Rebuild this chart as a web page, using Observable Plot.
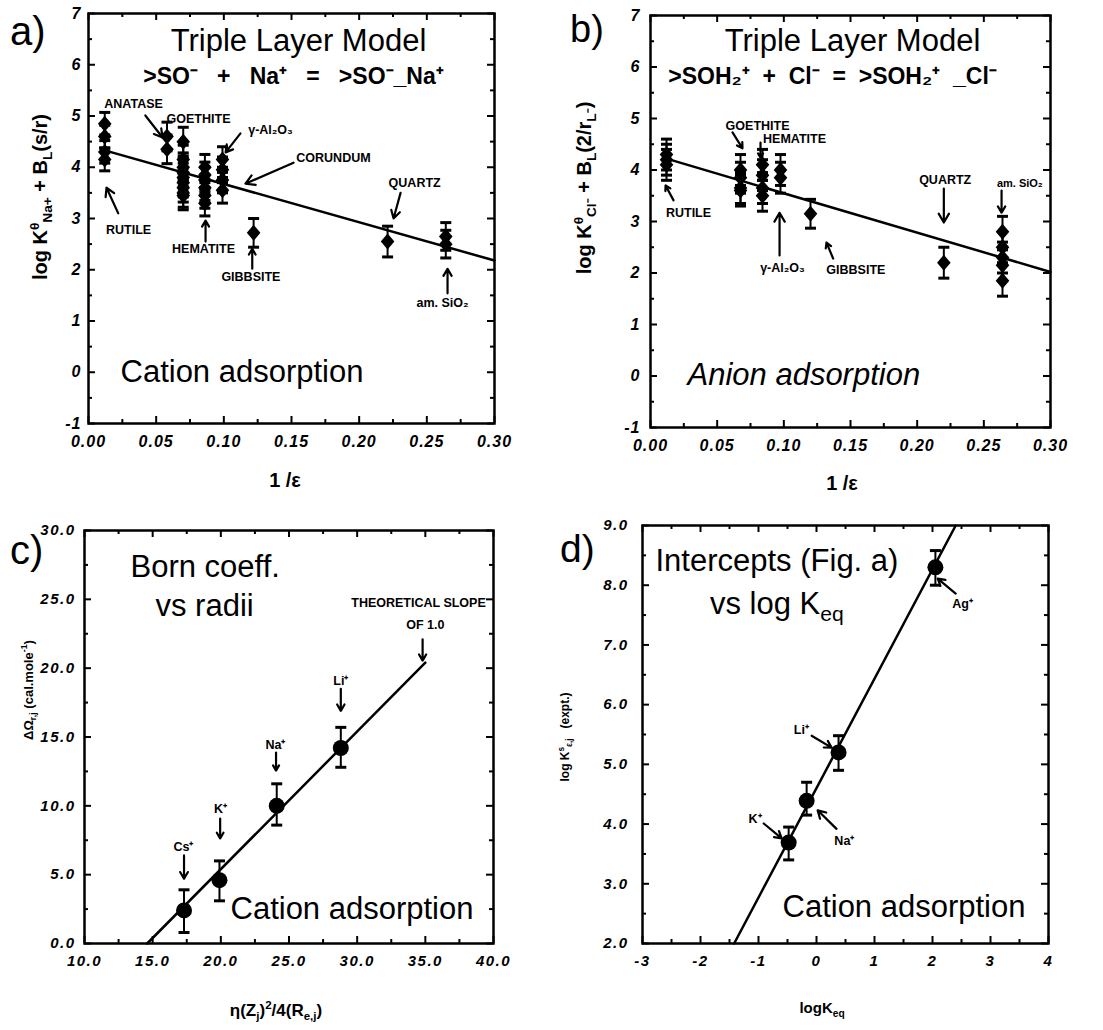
<!DOCTYPE html>
<html><head><meta charset="utf-8">
<script src="https://cdn.jsdelivr.net/npm/d3@7"></script>
<script src="https://cdn.jsdelivr.net/npm/@observablehq/plot@0.6"></script>
<style>
body{margin:0;background:#fff;}
#wrap{position:relative;width:1103px;height:1030px;font-family:"Liberation Sans",Arial,Helvetica,sans-serif;color:#000;overflow:hidden;}
.panel{position:absolute;}
.lab{position:absolute;white-space:nowrap;line-height:1;}
.ctr{transform:translate(-50%,-50%);}
.rot{transform:translate(-50%,-50%) rotate(-90deg);}
.b{font-weight:bold;}
sub,sup{font-size:0.68em;line-height:0;}
</style></head><body><div id="wrap"></div>
<script>
const FONT = '"Liberation Sans", Arial, Helvetica, sans-serif';

// ---------- Panel a data (cation, 1/eps vs log K) ----------
const aX = [0.012,0.012,0.012,0.012, 0.058,0.058,
  0.070,0.070,0.070,0.070,0.070,0.070,0.070,0.070,0.070,
  0.086,0.086,0.086,0.086,0.086,0.086, 0.099,0.099,0.099,0.099,
  0.122, 0.221, 0.264,0.264];
const aY = [4.85,4.6,4.3,4.15, 4.6,4.35,
  4.5,4.15,4.0,3.9,3.8,3.7,3.6,3.5,3.45,
  4.0,3.85,3.75,3.6,3.45,3.3, 4.15,3.95,3.75,3.55,
  2.72, 2.55, 2.65,2.5];
const aErr = [0.22,0.22,0.22,0.22, 0.28,0.28,
  0.28,0.28,0.28,0.28,0.28,0.28,0.28,0.28,0.28,
  0.25,0.25,0.25,0.25,0.25,0.25, 0.25,0.25,0.25,0.25,
  0.28, 0.3, 0.27,0.27];
const fitAX = [0.012, 0.30], fitAY = [4.33, 2.18];
const xTicksA = [0,0.05,0.10,0.15,0.20,0.25,0.30];
const yTicksA = [-1,0,1,2,3,4,5,6,7];
const annAText = ["ANATASE","GOETHITE","γ-Al₂O₃","CORUNDUM","RUTILE","HEMATITE","GIBBSITE","QUARTZ","am. SiO₂"];
const annAX = [0.0333,0.0813,0.1345,0.181,0.0296,0.085,0.12,0.241,0.2616];
const annAY = [5.24,4.95,4.72,4.19,2.77,2.4,1.85,3.70,1.36];
const arrAX1 = [0.042,0.1123,0.1515,0.022,0.0865,0.121,0.2306,0.2653];
const arrAY1 = [5.01,4.66,4.09,3.1,2.55,2.02,3.5,1.54];
const arrAX2 = [0.0547,0.1013,0.116,0.0133,0.0865,0.121,0.2254,0.2653];
const arrAY2 = [4.58,4.29,3.68,3.6,2.96,2.41,3.0,2.02];

// ---------- Panel b data (anion) ----------
const bX = [0.012,0.012,0.012, 0.0675,0.0675,0.0675,0.0675, 0.084,0.084,0.084,0.084,
  0.0975,0.0975, 0.12, 0.22, 0.264,0.264,0.264,0.264,0.264];
const bY = [4.3,4.2,4.1, 4.0,3.85,3.65,3.6, 4.1,3.9,3.65,3.5, 4.0,3.85, 3.15, 2.2, 2.8,2.5,2.3,2.15,1.85];
const bErr = [0.3,0.3,0.3, 0.3,0.3,0.3,0.3, 0.3,0.3,0.3,0.3, 0.3,0.3, 0.28, 0.3, 0.3,0.3,0.3,0.3,0.3];
const fitBX = [0.012, 0.30], fitBY = [4.22, 2.02];
const xTicksB = [0,0.05,0.10,0.15,0.20,0.25,0.30];
const yTicksB = [-1,0,1,2,3,4,5,6,7];
const annBText = ["GOETHITE","HEMATITE","RUTILE","γ-Al₂O₃","GIBBSITE","QUARTZ"];
const annBX = [0.0803,0.108,0.0285,0.099,0.154,0.221];
const annBY = [4.86,4.61,3.16,2.1,2.05,3.8];
const annBSmallText = ["am. SiO₂"], annBSmallX = [0.277], annBSmallY = [3.74];
const arrBX1 = [0.0615,0.0825,0.0173,0.0968,0.137,0.22,0.2633];
const arrBY1 = [4.73,4.53,3.41,2.34,2.28,3.64,3.6];
const arrBX2 = [0.069,0.0825,0.0113,0.0968,0.132,0.22,0.2633];
const arrBY2 = [4.42,4.24,3.7,3.17,2.59,2.98,3.17];

// ---------- Panel c data (Born coefficient vs radii) ----------
const cIons = ["Cs⁺","K⁺","Na⁺","Li⁺"];
const cX = [17.3,19.9,24.1,28.8];
const cY = [2.4,4.6,10.0,14.2];
const cLo = [0.8,3.1,8.6,12.8];
const cHi = [3.9,6.0,11.6,15.7];
const fitCX = [14.6, 35.0], fitCY = [0, 20.4];
const xTicksC = [10,15,20,25,30,35,40];
const yTicksC = [0,5,10,15,20,25,30];
const annCText = ["THEORETICAL SLOPE","OF 1.0","Cs⁺","K⁺","Na⁺","Li⁺"];
const annCX = [34.5,35.0,17.26,19.98,24.0,28.8];
const annCY = [24.7,23.1,7.04,9.8,14.45,19.1];
const arrCX1 = [34.8,17.3,19.95,24.05,28.8];
const arrCY1 = [22.1,6.4,9.08,13.87,18.5];
const arrCX2 = [34.8,17.3,19.95,24.05,28.8];
const arrCY2 = [20.55,4.7,7.63,12.56,16.9];

// ---------- Panel d data (intercepts vs log Keq) ----------
const dIons = ["K⁺","Na⁺","Li⁺","Ag⁺"];
const dX = [-0.48,-0.17,0.38,2.05];
const dY = [3.69,4.39,5.2,8.3];
const dLo = [3.4,4.15,4.9,8.0];
const dHi = [3.95,4.7,5.48,8.58];
const fitDX = [-1.42, 2.40], fitDY = [2.0, 9.0];
const xTicksD = [-3,-2,-1,0,1,2,3,4];
const yTicksD = [2,3,4,5,6,7,8,9];
const annDText = ["Ag⁺","Li⁺","K⁺","Na⁺"];
const annDX = [2.52,-0.26,-1.06,0.48];
const annDY = [7.69,5.58,4.09,3.72];
const arrDX1 = [2.40,-0.084,-0.91,0.345];
const arrDY1 = [7.86,5.48,4.01,3.92];
const arrDX2 = [2.09,0.26,-0.6,0.02];
const arrDY2 = [8.11,5.28,3.76,4.23];

// ---------- helpers ----------
const diamondSym = {draw(ctx, size){ const r = Math.sqrt(size/Math.PI);
  ctx.moveTo(0,-r); ctx.lineTo(r*0.85,0); ctx.lineTo(0,r); ctx.lineTo(-r*0.85,0); ctx.closePath(); }};
const capSym = {draw(ctx, size){ const r = Math.sqrt(size/Math.PI);
  ctx.moveTo(-r,0); ctx.lineTo(r,0); }};

function rows(xs, ys, lo, hi){ return xs.map((x,i)=>({x, y: ys[i], lo: lo[i], hi: hi[i]})); }
function pts(xs, ys){ return xs.map((x,i)=>({x, y: ys[i]})); }
function anns(t, xs, ys){ return t.map((s,i)=>({t: s, x: xs[i], y: ys[i]})); }
function arrs(x1,y1,x2,y2){ return x1.map((v,i)=>({x1:v, y1:y1[i], x2:x2[i], y2:y2[i]})); }
function minors(maj){ const out=[]; for(let i=0;i<maj.length-1;i++) out.push((maj[i]+maj[i+1])/2); return out; }

function inTicks(xMaj, yMaj, W, H){
  const L = 7, l = 4, sw = 2;
  const xMin = minors(xMaj), yMin = minors(yMaj);
  return [
    Plot.tickX(xMaj, {x: d=>d, insetTop: H-L, strokeWidth: sw}),
    Plot.tickX(xMaj, {x: d=>d, insetBottom: H-L, strokeWidth: sw}),
    Plot.tickX(xMin, {x: d=>d, insetTop: H-l, strokeWidth: sw}),
    Plot.tickX(xMin, {x: d=>d, insetBottom: H-l, strokeWidth: sw}),
    Plot.tickY(yMaj, {y: d=>d, insetRight: W-L, strokeWidth: sw}),
    Plot.tickY(yMaj, {y: d=>d, insetLeft: W-L, strokeWidth: sw}),
    Plot.tickY(yMin, {y: d=>d, insetRight: W-l, strokeWidth: sw}),
    Plot.tickY(yMin, {y: d=>d, insetLeft: W-l, strokeWidth: sw})
  ];
}
const tickFont = {fontFamily: FONT, fontWeight: "bold", fontStyle: "italic"};
function errMarks(data, sym, r){
  return [
    Plot.ruleX(data, {x:"x", y1:"lo", y2:"hi", strokeWidth: 2}),
    Plot.dot(data, {x:"x", y:"hi", symbol: capSym, r: 5.5, stroke:"black", strokeWidth: 3, fill:"none"}),
    Plot.dot(data, {x:"x", y:"lo", symbol: capSym, r: 5.5, stroke:"black", strokeWidth: 3, fill:"none"}),
    Plot.dot(data, {x:"x", y:"y", symbol: sym, r, fill:"black", stroke:"none"})
  ];
}
const annStyle = {x:"x", y:"y", text:"t", fontFamily: FONT, fontWeight:"bold", fontSize: 12.5, fill:"black"};
const arrowStyle = {x1:"x1", y1:"y1", x2:"x2", y2:"y2", strokeWidth: 2.2, headLength: 7, stroke:"black"};
const big = {fontFamily: FONT, fontSize: 31, fill: "black", lineAnchor: "middle"};

function place(svg, left, top, w, ls){
  const d = document.createElement("div");
  d.className = "panel"; d.style.left = left+"px"; d.style.top = top+"px"; d.style.width = w+"px";
  svg.querySelectorAll('[aria-label$="tick label"]').forEach(g => g.setAttribute("letter-spacing", ls));
  d.appendChild(svg);
  document.getElementById("wrap").appendChild(d);
}

// ---------- Panel a ----------
{
  const W = 406, H = 410;
  const data = rows(aX, aY, aX.map((x,i)=>aY[i]-aErr[i]), aX.map((x,i)=>aY[i]+aErr[i]));
  const p = Plot.plot({
    width: 550, height: 510, marginTop: 13, marginRight: 56, marginBottom: 87, marginLeft: 88,
    x: {domain: [0, 0.30]}, y: {domain: [-1, 7]},
    style: {overflow: "visible", fontFamily: FONT, background: "transparent"},
    marks: [
      ...inTicks(xTicksA, yTicksA, W, H),
      Plot.axisX(xTicksA, {tickSize: 0, tickPadding: 12, tickFormat: d3.format(".2f"), fontSize: 16, ...tickFont, label: null}),
      Plot.axisY(yTicksA, {tickSize: 0, tickPadding: 7, tickFormat: d => String(d), fontSize: 16, ...tickFont, label: null}),
      Plot.line(pts(fitAX, fitAY), {x:"x", y:"y", strokeWidth: 2.5}),
      ...errMarks(data, diamondSym, 8),
      Plot.arrow(arrs(arrAX1, arrAY1, arrAX2, arrAY2), arrowStyle),
      Plot.text(anns(annAText, annAX, annAY), annStyle),
      Plot.text(["Triple Layer Model"], {text: d=>d, frameAnchor: "top", dx: 7, dy: 28, ...big}),
      Plot.text([">SO⁻\u00a0\u00a0\u00a0+\u00a0\u00a0\u00a0Na⁺\u00a0\u00a0\u00a0=\u00a0\u00a0\u00a0>SO⁻_Na⁺"], {text: d=>d, frameAnchor: "top", lineAnchor: "middle", dx: 2, dy: 63, fontFamily: FONT, fontSize: 23, fontWeight: "bold"}),
      Plot.text(["Cation adsorption"], {text: d=>d, frameAnchor: "bottom-left", textAnchor: "start", dx: 32, dy: -51, ...big}),
      Plot.frame({stroke: "black", strokeWidth: 2.5})
    ]
  });
  place(p, 0, 0, 550, "1");
}

// ---------- Panel b ----------
{
  const W = 400, H = 412;
  const data = rows(bX, bY, bX.map((x,i)=>bY[i]-bErr[i]), bX.map((x,i)=>bY[i]+bErr[i]));
  const p = Plot.plot({
    width: 553, height: 510, marginTop: 15, marginRight: 53, marginBottom: 83, marginLeft: 100,
    x: {domain: [0, 0.30]}, y: {domain: [-1, 7]},
    style: {overflow: "visible", fontFamily: FONT, background: "transparent"},
    marks: [
      ...inTicks(xTicksB, yTicksB, W, H),
      Plot.axisX(xTicksB, {tickSize: 0, tickPadding: 12, tickFormat: d3.format(".2f"), fontSize: 16, ...tickFont, label: null}),
      Plot.axisY(yTicksB, {tickSize: 0, tickPadding: 10, tickFormat: d => String(d), fontSize: 16, ...tickFont, label: null}),
      Plot.line(pts(fitBX, fitBY), {x:"x", y:"y", strokeWidth: 2.5}),
      ...errMarks(data, diamondSym, 8),
      Plot.arrow(arrs(arrBX1, arrBY1, arrBX2, arrBY2), arrowStyle),
      Plot.text(anns(annBText, annBX, annBY), annStyle),
      Plot.text(anns(annBSmallText, annBSmallX, annBSmallY), {...annStyle, fontSize: 11}),
      Plot.text(["Triple Layer Model"], {text: d=>d, frameAnchor: "top", dx: 2, dy: 26, ...big}),
      Plot.text([">SOH₂⁺\u00a0\u00a0+\u00a0\u00a0Cl⁻\u00a0\u00a0=\u00a0\u00a0>SOH₂⁺\u00a0\u00a0_Cl⁻"], {text: d=>d, frameAnchor: "top", lineAnchor: "middle", dx: -18, dy: 61, fontFamily: FONT, fontSize: 23, fontWeight: "bold"}),
      Plot.text(["Anion adsorption"], {text: d=>d, frameAnchor: "bottom-left", textAnchor: "start", dx: 37, dy: -52, fontStyle: "italic", ...big}),
      Plot.frame({stroke: "black", strokeWidth: 2.5})
    ]
  });
  place(p, 550, 0, 553, "1");
}

// ---------- Panel c ----------
{
  const W = 409, H = 413;
  const data = rows(cX, cY, cLo, cHi);
  const p = Plot.plot({
    width: 550, height: 520, marginTop: 20, marginRight: 57, marginBottom: 87, marginLeft: 84,
    x: {domain: [10, 40]}, y: {domain: [0, 30]},
    style: {overflow: "visible", fontFamily: FONT, background: "transparent"},
    marks: [
      ...inTicks(xTicksC, yTicksC, W, H),
      Plot.axisX(xTicksC, {tickSize: 0, tickPadding: 12, tickFormat: d3.format(".1f"), fontSize: 15, ...tickFont, label: null}),
      Plot.axisY(yTicksC, {tickSize: 0, tickPadding: 9, tickFormat: d3.format(".1f"), fontSize: 15, ...tickFont, label: null}),
      Plot.line(pts(fitCX, fitCY), {x:"x", y:"y", strokeWidth: 2.5}),
      ...errMarks(data, "circle", 8),
      Plot.arrow(arrs(arrCX1, arrCY1, arrCX2, arrCY2), arrowStyle),
      Plot.text(anns(annCText, annCX, annCY), annStyle),
      Plot.text(["Born coeff."], {text: d=>d, frameAnchor: "top-left", textAnchor: "start", dx: 46, dy: 37, ...big}),
      Plot.text(["vs radii"], {text: d=>d, frameAnchor: "top-left", textAnchor: "start", dx: 71, dy: 76, ...big}),
      Plot.text(["Cation adsorption"], {text: d=>d, frameAnchor: "bottom-left", textAnchor: "start", dx: 146, dy: -34, ...big}),
      Plot.frame({stroke: "black", strokeWidth: 2.5})
    ]
  });
  place(p, 0, 510, 550, "1.5");
}

// ---------- Panel d ----------
{
  const W = 406, H = 418;
  const data = rows(dX, dY, dLo, dHi);
  const p = Plot.plot({
    width: 553, height: 520, marginTop: 15, marginRight: 55, marginBottom: 87, marginLeft: 92,
    x: {domain: [-3, 4]}, y: {domain: [2, 9]},
    style: {overflow: "visible", fontFamily: FONT, background: "transparent"},
    marks: [
      ...inTicks(xTicksD, yTicksD, W, H),
      Plot.axisX(xTicksD, {tickSize: 0, tickPadding: 12, tickFormat: d => String(d), fontSize: 15, ...tickFont, label: null}),
      Plot.axisY(yTicksD, {tickSize: 0, tickPadding: 14, tickFormat: d3.format(".1f"), fontSize: 15, ...tickFont, label: null}),
      Plot.line(pts(fitDX, fitDY), {x:"x", y:"y", strokeWidth: 2.5}),
      ...errMarks(data, "circle", 8),
      Plot.arrow(arrs(arrDX1, arrDY1, arrDX2, arrDY2), arrowStyle),
      Plot.text(anns(annDText, annDX, annDY), annStyle),
      Plot.text(["Intercepts (Fig. a)"], {text: d=>d, frameAnchor: "top-left", textAnchor: "start", dx: 13, dy: 36, ...big}),
      Plot.text(["Cation adsorption"], {text: d=>d, frameAnchor: "bottom-left", textAnchor: "start", dx: 140, dy: -36, ...big}),
      Plot.frame({stroke: "black", strokeWidth: 2.5})
    ]
  });
  place(p, 550, 510, 553, "1.5");
}

// ---------- HTML text overlays (sub/superscripts) ----------
const overlays = [
  {html: "a)", x: 10, y: 11, cls: "", fs: 40},
  {html: "b)", x: 570, y: 10, cls: "", fs: 38},
  {html: "c)", x: 10, y: 530, cls: "", fs: 40},
  {html: "d)", x: 560, y: 529, cls: "", fs: 39},
  {html: "log K<sup>θ</sup><sub>Na+</sub> + B<sub>L</sub>(s/r)", x: 40, y: 197, cls: "rot b", fs: 20},
  {html: "log K<sup>θ</sup><sub>Cl⁻</sub> + B<sub>L</sub>(2/r<sub>L⁻</sub>)", x: 584, y: 188, cls: "rot b", fs: 20},
  {html: "1 /ε", x: 285, y: 480, cls: "ctr b", fs: 20},
  {html: "1 /ε", x: 842, y: 483, cls: "ctr b", fs: 20},
  {html: "ΔΩ<sub>r,j</sub> (cal.mole<sup>-1</sup>)", x: 28, y: 690, cls: "rot b", fs: 13},
  {html: "η(Z<sub>j</sub>)<sup>2</sup>/4(R<sub>e,j</sub>)", x: 276, y: 1010, cls: "ctr b", fs: 17},
  {html: "log K<sup>s</sup><sub>ε,j</sub>&nbsp;&nbsp;&nbsp;(expt.)", x: 565, y: 737, cls: "rot b", fs: 12},
  {html: "logK<sub>eq</sub>", x: 822, y: 1007, cls: "ctr b", fs: 15},
  {html: "vs log K<sub>eq</sub>", x: 710, y: 588, cls: "", fs: 31}
];
for (const o of overlays) {
  const d = document.createElement("div");
  d.className = "lab " + o.cls;
  d.style.left = o.x + "px"; d.style.top = o.y + "px"; d.style.fontSize = o.fs + "px";
  d.innerHTML = o.html;
  document.getElementById("wrap").appendChild(d);
}
</script></body></html>
